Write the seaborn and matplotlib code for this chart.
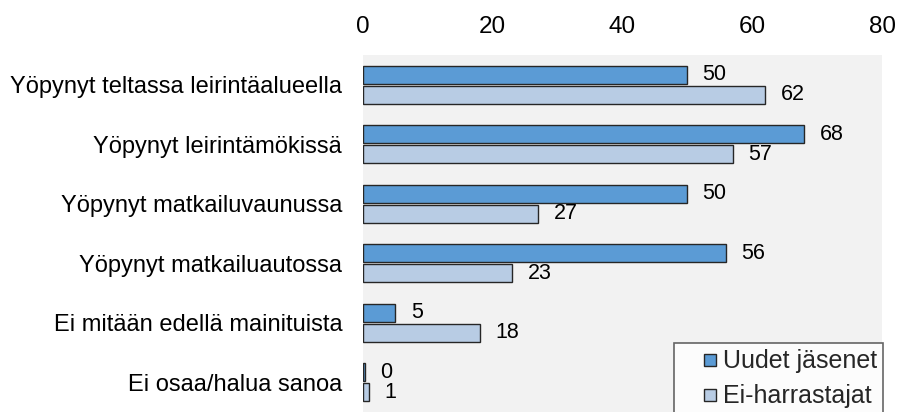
import matplotlib
matplotlib.use("Agg")
import matplotlib.pyplot as plt
import seaborn as sns
import pandas as pd
from matplotlib.lines import Line2D

categories = [
    "Yöpynyt teltassa leirintäalueella",
    "Yöpynyt leirintämökissä",
    "Yöpynyt matkailuvaunussa",
    "Yöpynyt matkailuautossa",
    "Ei mitään edellä mainituista",
    "Ei osaa/halua sanoa",
]
series_names = ["Uudet jäsenet", "Ei-harrastajat"]
uudet = [50, 68, 50, 56, 5, 0.3]
ei_harr = [62, 57, 27, 23, 18, 1]
uudet_labels = ["50", "68", "50", "56", "5", "0"]
ei_labels = ["62", "57", "27", "23", "18", "1"]
xticks = [0, 20, 40, 60, 80]

df = pd.DataFrame({
    "cat": categories * 2,
    "val": uudet + ei_harr,
    "series": [series_names[0]] * len(categories) + [series_names[1]] * len(categories),
})

sns.set_theme(style="white")
plt.rcParams["font.family"] = ["Liberation Sans", "DejaVu Sans"]

fig = plt.figure(figsize=(9.01, 4.12), dpi=100)
ax = fig.add_axes([363 / 901, 0.0, 519 / 901, 1 - 55 / 412])
ax.set_facecolor("#f2f2f2")

palette = {series_names[0]: "#5b9bd5", series_names[1]: "#b8cce4"}
sns.barplot(data=df, y="cat", x="val", hue="series", palette=palette,
            orient="h", width=0.68, gap=0.1, edgecolor="#262626", linewidth=1.0,
            ax=ax, legend=False, saturation=1)

labels_all = [uudet_labels, ei_labels]
for cont, labs in zip(ax.containers, labels_all):
    ax.bar_label(cont, labels=labs, padding=11, fontsize=15.5, color="#000000")

ax.set_xlim(0, 80)
ax.set_ylim(5.5, -0.5)
ax.set_xticks(xticks)
ax.xaxis.tick_top()
ax.tick_params(axis="x", length=0, labelsize=17.5, pad=12, colors="#000000")
ax.tick_params(axis="y", length=0, labelsize=17, pad=15, colors="#000000")
ax.set_xlabel("")
ax.set_ylabel("")
for s in ax.spines.values():
    s.set_visible(False)

handles = [Line2D([], [], linestyle="none", marker="s", markersize=8.6,
                  markerfacecolor=palette[n], markeredgecolor="#262626",
                  markeredgewidth=1.0) for n in series_names]
leg = fig.legend(handles, series_names, loc="upper left",
                 bbox_to_anchor=(674 / 901, 1 - 343 / 412), fontsize=18,
                 frameon=True, fancybox=False, edgecolor="#404040",
                 handlelength=2.4, handletextpad=-0.7,
                 borderpad=0.25, labelspacing=0.45, borderaxespad=0)
leg.get_frame().set_linewidth(1.2)
leg.get_frame().set_facecolor("white")

fig.savefig("out.png", dpi=100)
